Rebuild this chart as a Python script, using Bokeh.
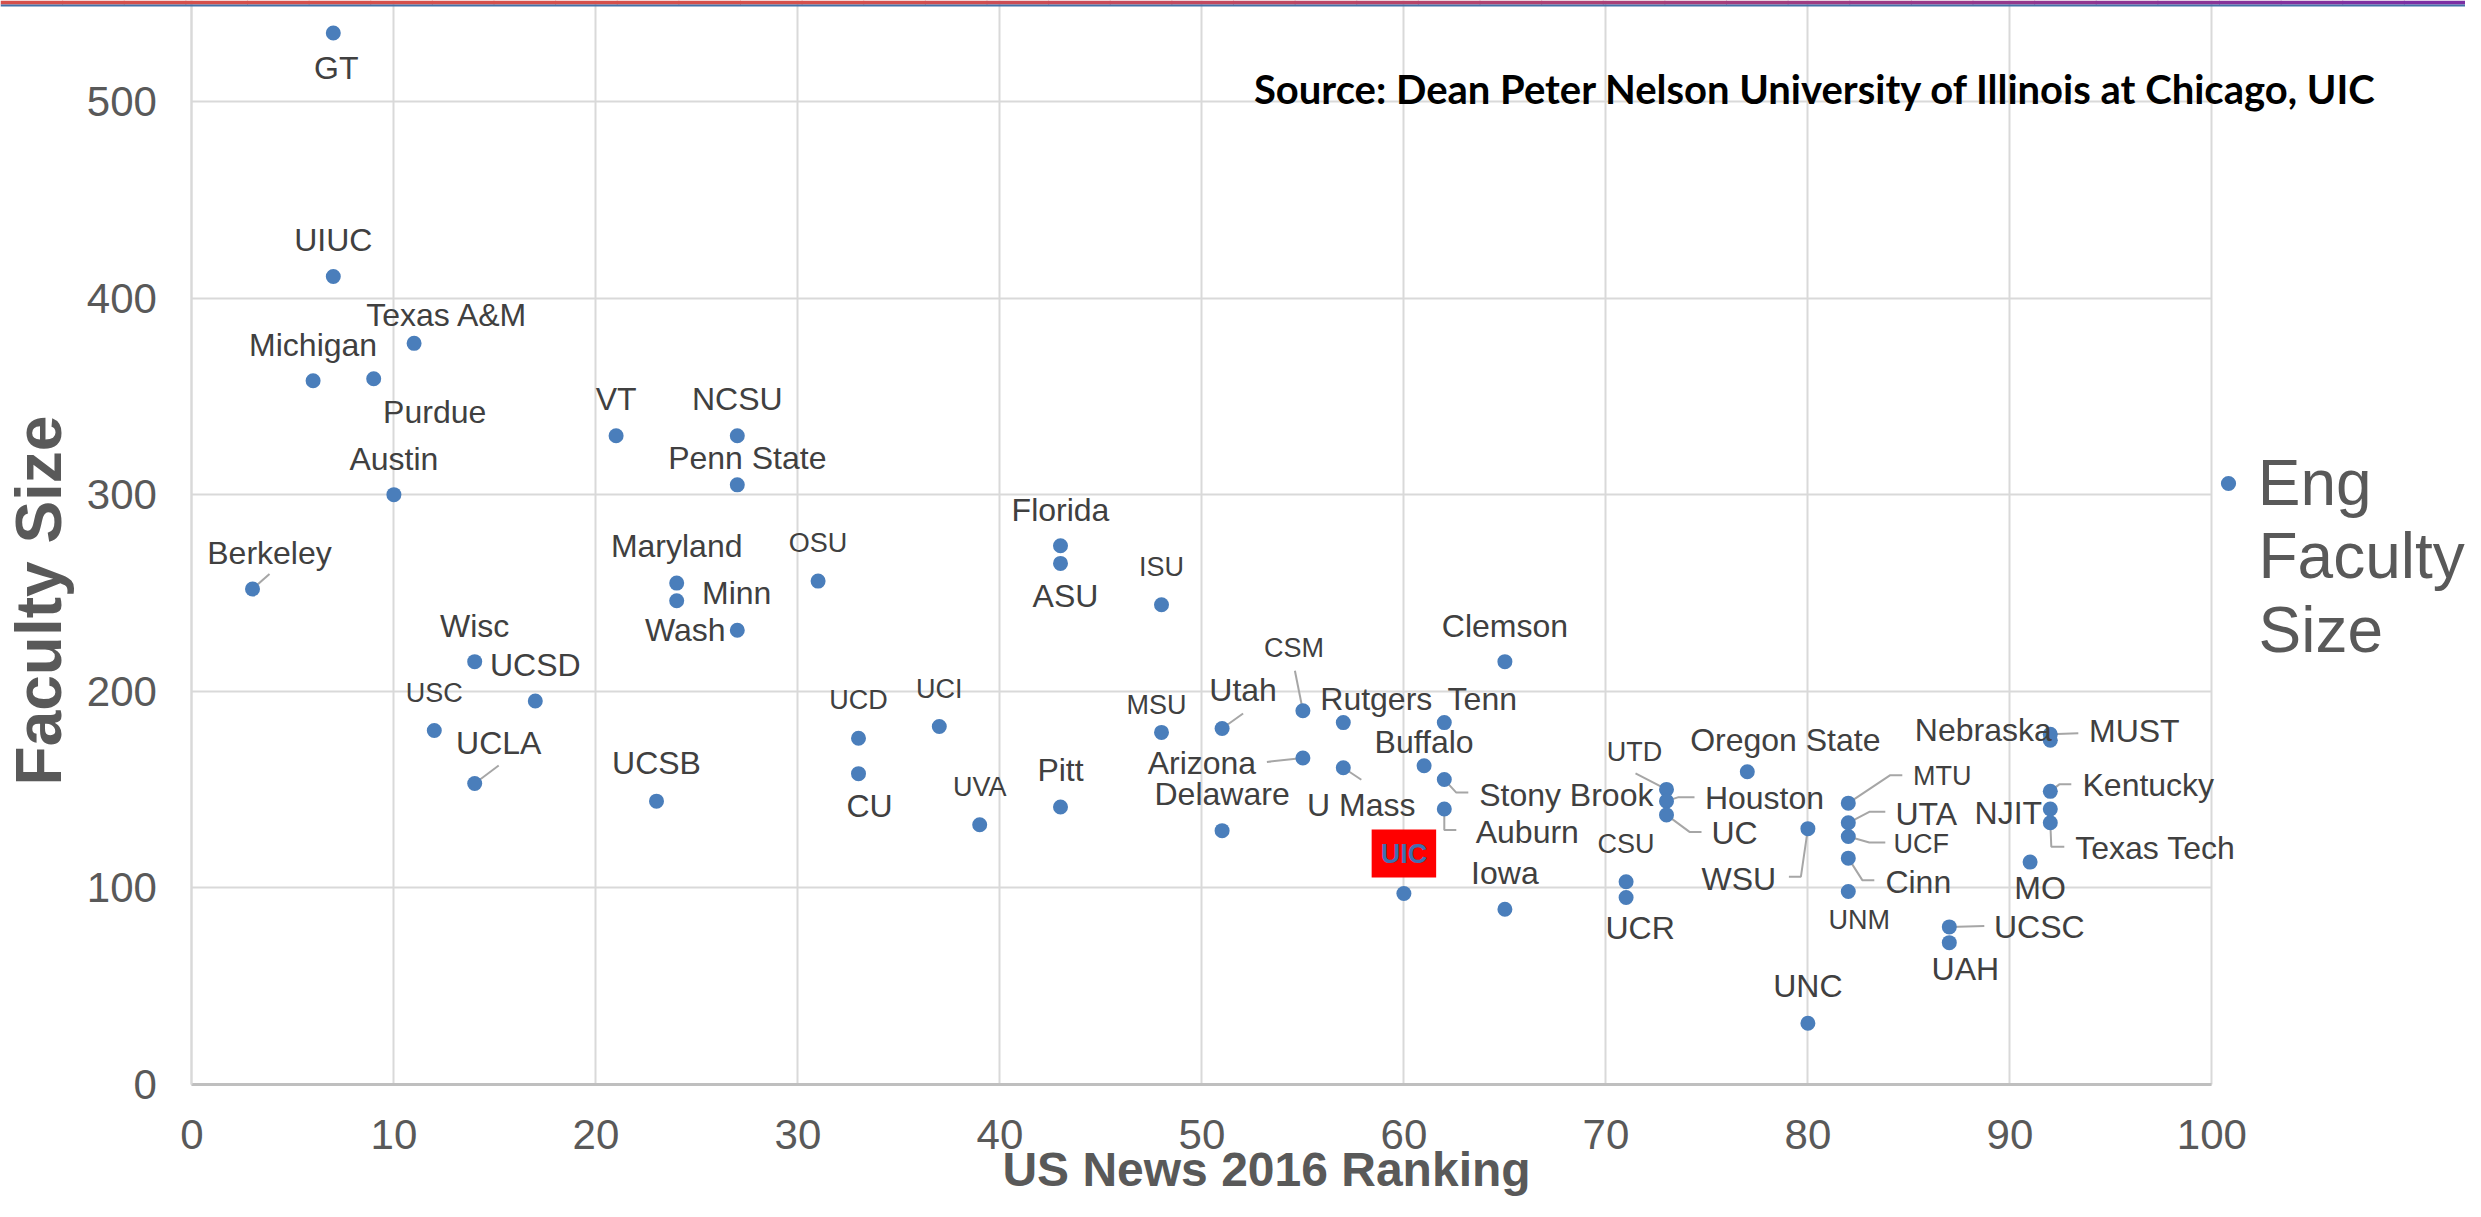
import math
from bokeh.plotting import figure
from bokeh.models import (Range1d, ColumnDataSource, Label, Legend, LegendItem,
                          FixedTicker, BoxAnnotation)
from bokeh.embed import file_html
from bokeh.resources import INLINE
from bokeh.core.properties import value

# ---------------- data ----------------
schools = ["GT", "UIUC", "Texas A&M", "Michigan", "Purdue", "VT", "NCSU", "Penn State",
           "Austin", "Berkeley", "Maryland", "Minn", "Wash", "OSU", "Florida", "ASU",
           "ISU", "Wisc", "UCSD", "USC", "UCLA", "UCSB", "UCD", "CU", "UCI", "UVA",
           "Pitt", "MSU", "Utah", "CSM", "Rutgers", "Tenn", "Clemson", "Arizona",
           "Delaware", "U Mass", "Buffalo", "Stony Brook", "Auburn", "UIC", "Iowa",
           "CSU", "UCR", "UTD", "Houston", "UC", "Oregon State", "WSU", "UNC", "MTU",
           "UTA", "UCF", "Cinn", "UNM", "UCSC", "UAH", "MO", "Nebraska", "MUST",
           "Kentucky", "NJIT", "Texas Tech"]
ranking = [7, 7, 11, 6, 9, 21, 27, 27, 10, 3, 24, 24, 27, 31, 43, 43, 48, 14, 17, 12,
           14, 23, 33, 33, 37, 39, 43, 48, 51, 55, 57, 62, 65, 55, 51, 57, 61, 62, 62,
           60, 65, 71, 71, 73, 73, 73, 77, 80, 80, 82, 82, 82, 82, 82, 87, 87, 91, 92,
           92, 92, 92, 92]
faculty = [535, 411, 377, 358, 359, 330, 330, 305, 300, 252, 255, 246, 231, 256, 274,
           265, 244, 215, 195, 180, 153, 144, 176, 158, 182, 132, 141, 179, 181, 190,
           184, 184, 215, 166, 129, 161, 162, 155, 140, 97, 89, 103, 95, 150, 144, 137,
           159, 130, 31, 143, 133, 126, 115, 98, 80, 72, 113, 175, 178, 149, 140, 133]

x_ticks = list(range(0, 101, 10))
y_ticks = list(range(0, 501, 100))
series_name = ["Eng", "Faculty", "Size"]
highlight = "UIC"
source_note = "Source:  Dean Peter Nelson University of Illinois at Chicago, UIC"
x_title = "US News 2016 Ranking"
y_title = "Faculty Size"

# ---------------- label layout (screen px offsets from the point) ----------------
LAYOUT = {
    "GT": (3, 35, False, None), "UIUC": (0, -37, False, None),
    "Texas A&M": (33, -28, False, None), "Michigan": (0, -36, False, None),
    "Purdue": (61, 33, False, None), "VT": (0, -37, False, None),
    "NCSU": (0, -37, False, None), "Penn State": (10, -27, False, None),
    "Austin": (0, -36, False, None),
    "Berkeley": (17, -36, False, [(0, 0), (17, -15)]),
    "Maryland": (0, -37, False, None), "Minn": (60, -8, False, None),
    "Wash": (-52, 0, False, None), "OSU": (0, -38, True, None),
    "Florida": (0, -36, False, None), "ASU": (5, 33, False, None),
    "ISU": (0, -38, True, None), "Wisc": (0, -36, False, None),
    "UCSD": (0, -36, False, None), "USC": (0, -37, True, None),
    "UCLA": (24, -40, False, [(0, 0), (24, -18)]),
    "UCSB": (0, -38, False, None), "UCD": (0, -38, True, None),
    "CU": (11, 32, False, None), "UCI": (0, -38, True, None),
    "UVA": (0, -38, True, None), "Pitt": (0, -37, False, None),
    "MSU": (-5, -27, True, None),
    "Utah": (21, -38, False, [(0, 0), (21, -15)]),
    "CSM": (-9, -63, True, [(0, 0), (-8, -40)]),
    "Rutgers": (33, -24, False, None), "Tenn": (38, -24, False, None),
    "Clemson": (0, -36, False, None),
    "Arizona": (-101, 5, False, [(0, 0), (-36, 4)]),
    "Delaware": (0, -37, False, None),
    "U Mass": (18, 37, False, [(0, 0), (18, 12)]),
    "Buffalo": (0, -24, False, None),
    "Stony Brook": (122, 15, False, [(0, 0), (12, 13), (24, 13)]),
    "Auburn": (83, 23, False, [(0, 0), (0, 21), (12, 21)]),
    "Iowa": (0, -36, False, None), "CSU": (0, -38, True, None),
    "UCR": (14, 31, False, None),
    "UTD": (-32, -37, True, [(0, 0), (-31, -16)]),
    "Houston": (98, -3, False, [(0, 0), (12, -4), (28, -4)]),
    "UC": (68, 18, False, [(0, 0), (23, 17), (35, 17)]),
    "Oregon State": (38, -32, False, None),
    "WSU": (-69, 50, False, [(0, 0), (-7, 48), (-19, 48)]),
    "UNC": (0, -37, False, None),
    "MTU": (94, -27, True, [(0, 0), (42, -28), (54, -28)]),
    "UTA": (78, -9, False, [(0, 0), (21, -11), (37, -11)]),
    "UCF": (73, 7, True, [(0, 0), (21, 6), (37, 6)]),
    "Cinn": (70, 24, False, [(0, 0), (14, 22), (26, 22)]),
    "UNM": (11, 28, True, None),
    "UCSC": (90, 0, False, [(0, 0), (35, -1)]),
    "UAH": (16, 26, False, None), "MO": (10, 26, False, None),
    "Nebraska": (-67, -10, False, None),
    "MUST": (84, -3, False, [(0, 0), (28, -1)]),
    "Kentucky": (98, -6, False, [(0, 0), (9, -7), (21, -7)]),
    "NJIT": (-42, 4, False, None),
    "Texas Tech": (105, 25, False, [(0, 0), (1, 24), (14, 24)]),
}

W, H = 2465, 1201
PX = 20.2          # px per ranking unit
PY = 1.9648        # px per faculty unit
X0_PX, Y0_PX = 191.4, 1083.6   # where (0, 0) sits in the canvas
X_START = -X0_PX / PX
X_END = X_START + W / PX
Y_END = Y0_PX / PY
Y_START = Y_END - H / PY

FONT = "Liberation Sans"
GREY = "#595959"
LABEL_GREY = "#404040"
BLUE = "#4a7ebb"
GRID = "#d9d9d9"

p = figure(frame_width=W, frame_height=H,
           x_range=Range1d(X_START, X_END), y_range=Range1d(Y_START, Y_END),
           output_backend="svg", toolbar_location=None, tools="",
           min_border=0, outline_line_color=None,
           background_fill_color="white", border_fill_color="white")

# slide header bar (red -> purple gradient with a blue rule underneath)
def _mix(c1, c2, t):
    a = [int(c1[i:i + 2], 16) for i in (1, 3, 5)]
    b = [int(c2[i:i + 2], 16) for i in (1, 3, 5)]
    return "#%02x%02x%02x" % tuple(round(a[k] + (b[k] - a[k]) * t) for k in range(3))

N_STEPS = 40
for k in range(N_STEPS):
    l, rr = W * k / N_STEPS, W * (k + 1) / N_STEPS + 1
    t = max(0.0, (k + 0.5) / N_STEPS - 0.35) / 0.65
    p.add_layout(BoxAnnotation(left=l, right=rr, top=H, bottom=H - 4,
                               left_units="screen", right_units="screen",
                               top_units="screen", bottom_units="screen",
                               fill_color=_mix("#d5504c", "#7a2ea6", t), fill_alpha=1,
                               line_color=None, level="overlay"))
p.add_layout(BoxAnnotation(left=0, right=W, top=H - 4, bottom=H - 6,
                           left_units="screen", right_units="screen",
                           top_units="screen", bottom_units="screen",
                           fill_color="#4472a8", fill_alpha=1, line_color=None,
                           level="overlay"))

for ax in (p.xaxis, p.yaxis):
    ax.fixed_location = 0
    ax.major_tick_line_color = None
    ax.minor_tick_line_color = None
    ax.major_tick_out = 0
    ax.major_tick_in = 0
    ax.major_label_text_font = FONT
    ax.major_label_text_font_size = "42px"
    ax.major_label_text_color = GREY
p.xaxis.ticker = FixedTicker(ticks=x_ticks)
p.yaxis.ticker = FixedTicker(ticks=y_ticks)
p.xaxis.bounds = (0, 100)
p.yaxis.bounds = (0, Y_END)
p.xaxis.axis_line_color = "#bfbfbf"
p.xaxis.axis_line_width = 3
p.yaxis.axis_line_color = GRID
p.yaxis.axis_line_width = 2
p.xaxis.major_label_standoff = 36
p.yaxis.major_label_standoff = 35

p.xgrid.ticker = FixedTicker(ticks=x_ticks)
p.ygrid.ticker = FixedTicker(ticks=y_ticks)
p.xgrid.cross_bounds = (0, Y_END)
p.ygrid.cross_bounds = (0, 100)
for g in (p.xgrid, p.ygrid):
    g.grid_line_color = GRID
    g.grid_line_width = 2

# leader lines
lx, ly = [], []
for name, xv, yv in zip(schools, ranking, faculty):
    lay = LAYOUT.get(name)
    if lay and lay[3]:
        lx.append([xv + dx / PX for dx, dy in lay[3]])
        ly.append([yv - dy / PY for dx, dy in lay[3]])
p.multi_line(xs=lx, ys=ly, line_color="#a6a6a6", line_width=2)

src = ColumnDataSource(dict(ranking=ranking, faculty=faculty, school=schools))
r = p.scatter(x="ranking", y="faculty", source=src, size=15,
              fill_color=BLUE, line_color=BLUE, line_width=0)

# data labels
def label_source(small):
    d = dict(x=[], y=[], t=[], xo=[], yo=[])
    for name, xv, yv in zip(schools, ranking, faculty):
        if name == highlight:
            continue
        dx, dy, sm, _ = LAYOUT[name]
        if sm != small:
            continue
        d["x"].append(xv); d["y"].append(yv); d["t"].append(name)
        d["xo"].append(dx); d["yo"].append(dy)
    return ColumnDataSource(d)

for small, fs in ((False, "32px"), (True, "27px")):
    p.text(x="x", y="y", text="t", x_offset="xo", y_offset="yo",
           source=label_source(small), text_align="center", text_baseline="middle",
           text_font=value(FONT), text_font_size=value(fs), text_color=LABEL_GREY)

hi = schools.index(highlight)
p.add_layout(Label(x=ranking[hi], y=faculty[hi], y_offset=40, text=highlight,
                   text_align="center", text_baseline="middle", text_font=FONT,
                   text_font_size="27px", text_font_style="bold", text_color="#3f6fb0",
                   background_fill_color="#ff0000", padding=9))

# legend (screen positions relative to the canvas' bottom-left)
legend = Legend(items=[LegendItem(label=series_name[0], renderers=[r])],
                location=(2208.7, 681), orientation="vertical", padding=0, margin=0,
                spacing=0, border_line_color=None, background_fill_alpha=0,
                glyph_width=38, glyph_height=38, label_standoff=11,
                label_text_font=FONT, label_text_font_size="64px",
                label_text_color=GREY)
p.add_layout(legend)
for txt, yy in ((series_name[1], 645.5), (series_name[2], 571.5)):
    p.add_layout(Label(x=2258, y=yy, x_units="screen", y_units="screen", text=txt,
                       text_align="left", text_baseline="middle", text_font=FONT,
                       text_font_size="64px", text_color=GREY))

# titles and note
p.add_layout(Label(x=1266, y=32, x_units="screen", y_units="screen", text=x_title,
                   text_align="center", text_baseline="middle", text_font=FONT,
                   text_font_size="48px", text_font_style="bold", text_color=GREY))
p.add_layout(Label(x=38.4, y=601, x_units="screen", y_units="screen", text=y_title,
                   angle=math.pi / 2, text_align="center", text_baseline="middle",
                   text_font=FONT, text_font_size="64px", text_font_style="bold",
                   text_color=GREY))
p.add_layout(Label(x=1820, y=1113, x_units="screen", y_units="screen", text=source_note,
                   text_align="center", text_baseline="middle", text_font="Lato",
                   text_font_size="40px", text_font_style="bold", text_color="black"))

open("out.html", "w").write(file_html(p, INLINE))
